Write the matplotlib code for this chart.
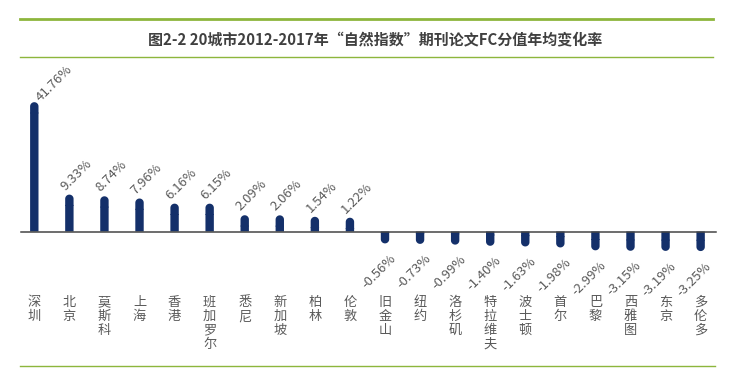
import numpy as np
import matplotlib
matplotlib.use("Agg")
import matplotlib.pyplot as plt
from matplotlib.lines import Line2D
from matplotlib.path import Path
from matplotlib.patches import PathPatch
import matplotlib.transforms as mtransforms

plt.rcParams['font.family'] = ['Noto Sans CJK SC', 'DejaVu Sans']

title = "图2-2 20城市2012-2017年“自然指数”期刊论文FC分值年均变化率"
cities = ["深圳", "北京", "莫斯科", "上海", "香港", "班加罗尔", "悉尼", "新加坡", "柏林", "伦敦",
          "旧金山", "纽约", "洛杉矶", "特拉维夫", "波士顿", "首尔", "巴黎", "西雅图", "东京", "多伦多"]
values = [41.76, 9.33, 8.74, 7.96, 6.16, 6.15, 2.09, 2.06, 1.54, 1.22,
          -0.56, -0.73, -0.99, -1.40, -1.63, -1.98, -2.99, -3.15, -3.19, -3.25]
labels = ["41.76%", "9.33%", "8.74%", "7.96%", "6.16%", "6.15%", "2.09%", "2.06%", "1.54%", "1.22%",
          "-0.56%", "-0.73%", "-0.99%", "-1.40%", "-1.63%", "-1.98%", "-2.99%", "-3.15%", "-3.19%", "-3.25%"]

W, H, DPI = 729, 383, 100
fig = plt.figure(figsize=(W / DPI, H / DPI), dpi=DPI)
ax = fig.add_axes([0, 0, 1, 1])
ax.set_axis_off()

bar_color = "#14306a"
green = "#8db63c"
text_gray = "#5a5a5a"

# geometry (pixels)
x0_px, dx_px = 34.3, 35.07
base_px = H - 231.5
ppu = 2.85  # pixels per unit
ax.set_xlim(-x0_px / dx_px, (W - x0_px) / dx_px)
ax.set_ylim(-base_px / ppu, (H - base_px) / ppu)

xs = np.arange(len(values))
vals = np.array(values)
bw_px = 8.4
bars = ax.bar(xs, vals, width=bw_px / dx_px, color=bar_color, zorder=3, linewidth=0)
for b in bars:
    b.set_snap(False)

# rounded bar tip (style): capsule extending outward from the bar end, in pixel units
tip_px = 10.3
r = bw_px / 2
theta = np.linspace(0, np.pi, 25)
arc = np.column_stack([r * np.cos(theta), (tip_px - r) + r * np.sin(theta)])
tip_verts = np.vstack([[r, -1.0], [r, tip_px - r], arc[1:], [-r, -1.0], [r, -1.0]]) / DPI
for x, v in zip(xs, vals):
    sgn = 1.0 if v >= 0 else -1.0
    path = Path(tip_verts * np.array([1.0, sgn]))
    trans = fig.dpi_scale_trans + mtransforms.ScaledTranslation(x, v, ax.transData)
    p = PathPatch(path, transform=trans, facecolor=bar_color, edgecolor='none',
                  linewidth=0, zorder=3)
    p.set_snap(False)
    ax.add_patch(p)

ax.axhline(0, xmin=21 / W, xmax=716 / W, color="#454545", lw=1.1, zorder=4)

px2pt = 72 / DPI
vmax = vals.max()
for x, v, lab in zip(xs, vals, labels):
    if v >= 0:
        dx_off = 6 if v == vmax else -4
        dy_off = tip_px if v == vmax else tip_px + 4
        ax.annotate(lab, (x, v), xytext=(dx_off * px2pt, dy_off * px2pt),
                    textcoords='offset points', ha='left', va='baseline',
                    rotation=45, rotation_mode='anchor', fontsize=9.5, color=text_gray)
    else:
        ax.annotate(lab, (x, v), xytext=(8.5 * px2pt, -(tip_px + 13) * px2pt),
                    textcoords='offset points', ha='right', va='center',
                    rotation=45, rotation_mode='anchor', fontsize=9.5, color=text_gray)

# vertical category labels
top_px = 296
step_px = 14
for x, name in zip(xs, cities):
    for k, ch in enumerate(name):
        ypix = top_px + k * step_px
        ax.text(x, (H - ypix - base_px) / ppu, ch, ha='center', va='top',
                fontsize=9.5, color=text_gray)

# title and decorative lines
fig.text(375 / W, 1 - 40 / H, title, ha='center', va='center', fontsize=10.8,
         fontweight='bold', color="#404040")
fig.add_artist(Line2D([20 / W, 713 / W], [1 - 19 / H, 1 - 19 / H], color=green, lw=2.0))
fig.add_artist(Line2D([20 / W, 713 / W], [1 - 57 / H, 1 - 57 / H], color=green, lw=1.0))
fig.add_artist(Line2D([20 / W, 715 / W], [1 - 366 / H, 1 - 366 / H], color=green, lw=1.0))

fig.savefig("out.png", dpi=DPI, facecolor="white")
